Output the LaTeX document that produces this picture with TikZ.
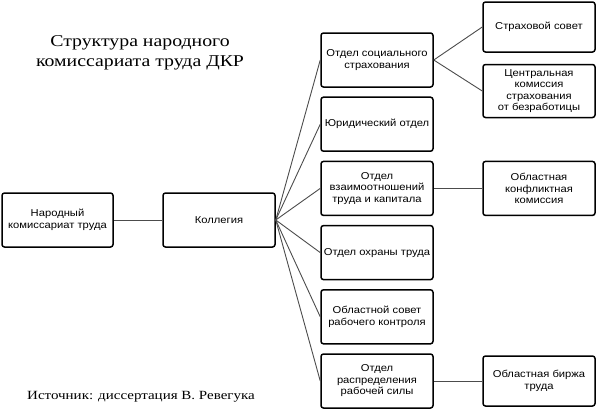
\documentclass[tikz,border=0pt]{standalone}
\usepackage{fontspec}
\setmainfont{Liberation Serif}
\setsansfont[FakeStretch=1.12]{Liberation Sans}
\newfontfamily\headfont[FakeStretch=1.2]{Liberation Serif}
\usetikzlibrary{shapes,arrows}
\tikzset{
  block/.style    = {draw, line width=1.5pt, rectangle, rounded corners=2.5pt, minimum height = 54pt, minimum width = 112pt, inner sep=1pt, align=center, font=\sffamily\fontsize{10}{11.5}\selectfont},
  caption/.style  = {align=center, font=\headfont\fontsize{16.5}{20}\selectfont},
  source/.style   = {font=\headfont\fontsize{12.5}{14}\selectfont},
  link/.style     = {draw, black!70, line width=0.9pt}
}

\begin{document}
\begin{tikzpicture}[x=1pt, y=-1pt, node distance=64.2pt]
\useasboundingbox (0,0) rectangle (597,410);

% Title and source
\draw node [caption] (title) at (140,53) {Структура народного\\комиссариата труда ДКР};
\draw node [source] (src) at (141,397) {Источник: диссертация В. Ревегука};

% Left part
\draw node [block, minimum width=111pt] (narkom) at (57.5,220) {Народный\\комиссариат труда};
\draw node [block, right of=narkom, node distance=161.5pt] (kol) {Коллегия};

% Departments
\draw node [block, right of=kol, yshift=160pt, node distance=158pt] (d1) {Отдел социального\\страхования};
\draw node [block, below of=d1] (d2) {Юридический отдел};
\draw node [block, below of=d2] (d3) {Отдел\\взаимоотношений\\труда и капитала};
\draw node [block, below of=d3] (d4) {Отдел охраны труда};
\draw node [block, below of=d4] (d5) {Областной совет\\рабочего контроля};
\draw node [block, below of=d5] (d6) {Отдел\\распределения\\рабочей силы};

% Subordinate bodies
\draw node [block, minimum height=50pt, right of=d1, yshift=33pt, node distance=162pt] (r1) {Страховой совет};
\draw node [block, minimum height=53pt, right of=d1, yshift=-31pt, node distance=162pt] (r2) {Центральная\\комиссия\\страхования\\от безработицы};
\draw node [block, right of=d3, node distance=162pt] (r3) {Областная\\конфликтная\\комиссия};
\draw node [block, minimum height=50pt, right of=d6, node distance=162pt] (r4) {Областная биржа\\труда};

% Connections
\draw[link] (narkom.east) -- (kol.west);
\foreach \d in {d1,d2,d3,d4,d5,d6}
  \draw[link] (kol.east) -- (\d.west);
\draw[link] (d1.east) -- (r1.west);
\draw[link] (d1.east) -- (r2.west);
\draw[link] (d3.east) -- (r3.west);
\draw[link] (d6.east) -- (r4.west);

\end{tikzpicture}
\end{document}
